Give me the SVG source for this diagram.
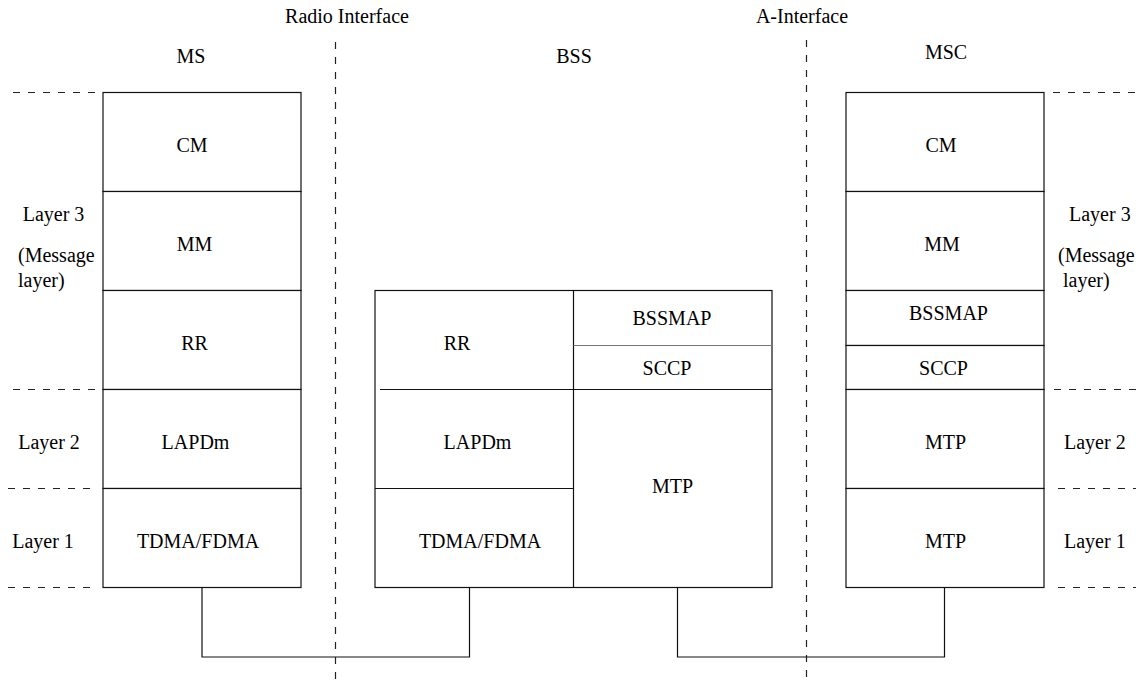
<svg xmlns="http://www.w3.org/2000/svg" width="1136" height="684" viewBox="0 0 1136 684" style="font-family:'Liberation Serif',serif">
<style>
svg text, text{font-family:"Liberation Serif",serif !important;font-size:20px;fill:#000}
.c{text-anchor:middle}
.cell{fill:#fff;stroke:#111;stroke-width:1.2}
.dash{stroke:#222;stroke-width:1.2;stroke-dasharray:7 8;fill:none}
.conn{stroke:#111;stroke-width:1.2;fill:none}
</style>
<rect width="1136" height="684" fill="#fff"/>
<g font-family="Liberation Serif" style="font-family:'Liberation Serif',serif">

<g id="interfaces">
<text class="c" x="347" y="23">Radio Interface</text>
<text class="c" x="802" y="23">A-Interface</text>
<line class="dash" x1="335.5" y1="42" x2="335.5" y2="680"/>
<line class="dash" x1="806.5" y1="40" x2="806.5" y2="680"/>
</g>

<g id="layer-lines">
<line class="dash" x1="13" y1="92.5" x2="98" y2="92.5"/>
<line class="dash" x1="13" y1="389.5" x2="98" y2="389.5"/>
<line class="dash" x1="8" y1="488.5" x2="95" y2="488.5"/>
<line class="dash" x1="8" y1="587.5" x2="95" y2="587.5"/>
<line class="dash" x1="1053" y1="92.5" x2="1136" y2="92.5"/>
<line class="dash" x1="1054" y1="389.5" x2="1136" y2="389.5"/>
<line class="dash" x1="1058" y1="488.5" x2="1136" y2="488.5"/>
<line class="dash" x1="1058" y1="587.5" x2="1136" y2="587.5"/>
</g>

<g id="layer-labels">
<text class="c" x="53.5" y="221">Layer 3</text>
<text x="18" y="262">(Message</text>
<text x="18" y="287">layer)</text>
<text class="c" x="49" y="449">Layer 2</text>
<text class="c" x="43" y="548">Layer 1</text>
<text x="1069" y="221">Layer 3</text>
<text x="1058" y="262">(Message</text>
<text x="1063" y="287">layer)</text>
<text x="1064" y="449">Layer 2</text>
<text x="1064" y="548">Layer 1</text>
</g>

<g id="MS">
<text class="c" x="191" y="63">MS</text>
<g id="ms-cm"><rect class="cell" x="103" y="92.5" width="198" height="99"/><text class="c" x="192" y="152">CM</text></g>
<g id="ms-mm"><rect class="cell" x="103" y="191.5" width="198" height="99"/><text class="c" x="194.5" y="251">MM</text></g>
<g id="ms-rr"><rect class="cell" x="103" y="290.5" width="198" height="99"/><text class="c" x="194.5" y="350">RR</text></g>
<g id="ms-lapdm"><rect class="cell" x="103" y="389.5" width="198" height="99"/><text class="c" x="195.5" y="449">LAPDm</text></g>
<g id="ms-tdma"><rect class="cell" x="103" y="488.5" width="198" height="99"/><text class="c" x="198" y="548">TDMA/FDMA</text></g>
</g>

<g id="BSS">
<text class="c" x="574" y="63">BSS</text>
<rect class="cell" x="375" y="290.5" width="397" height="297"/>
<line class="conn" x1="573.5" y1="290.5" x2="573.5" y2="587.5"/>
<g id="bss-rr"><line class="conn" x1="380" y1="389.5" x2="573.5" y2="389.5"/><text class="c" x="457" y="350">RR</text></g>
<g id="bss-lapdm"><line class="conn" x1="375" y1="488.5" x2="573.5" y2="488.5"/><text class="c" x="477.5" y="449">LAPDm</text></g>
<g id="bss-tdma"><text class="c" x="480" y="548">TDMA/FDMA</text></g>
<g id="bss-bssmap"><line class="conn" x1="573.5" y1="345.5" x2="772" y2="345.5" style="stroke:#777"/><text class="c" x="672" y="325">BSSMAP</text></g>
<g id="bss-sccp"><line class="conn" x1="573.5" y1="389.5" x2="772" y2="389.5"/><text class="c" x="667" y="375">SCCP</text></g>
<g id="bss-mtp"><text class="c" x="672.5" y="493">MTP</text></g>
</g>

<g id="MSC">
<text class="c" x="946" y="59">MSC</text>
<g id="msc-cm"><rect class="cell" x="846" y="92.5" width="198" height="99"/><text class="c" x="941" y="152">CM</text></g>
<g id="msc-mm"><rect class="cell" x="846" y="191.5" width="198" height="99"/><text class="c" x="942" y="251">MM</text></g>
<g id="msc-bssmap"><rect class="cell" x="846" y="290.5" width="198" height="55"/><text class="c" x="948.5" y="320">BSSMAP</text></g>
<g id="msc-sccp"><rect class="cell" x="846" y="345.5" width="198" height="44"/><text class="c" x="943.5" y="375">SCCP</text></g>
<g id="msc-mtp2"><rect class="cell" x="846" y="389.5" width="198" height="99"/><text class="c" x="945.5" y="449">MTP</text></g>
<g id="msc-mtp1"><rect class="cell" x="846" y="488.5" width="198" height="99"/><text class="c" x="945.5" y="548">MTP</text></g>
</g>

<g id="connectors">
<polyline class="conn" points="202,587.5 202,657 469.5,657 469.5,587.5"/>
<polyline class="conn" points="677.5,587.5 677.5,657 944.5,657 944.5,587.5"/>
</g>
</g>
</svg>
